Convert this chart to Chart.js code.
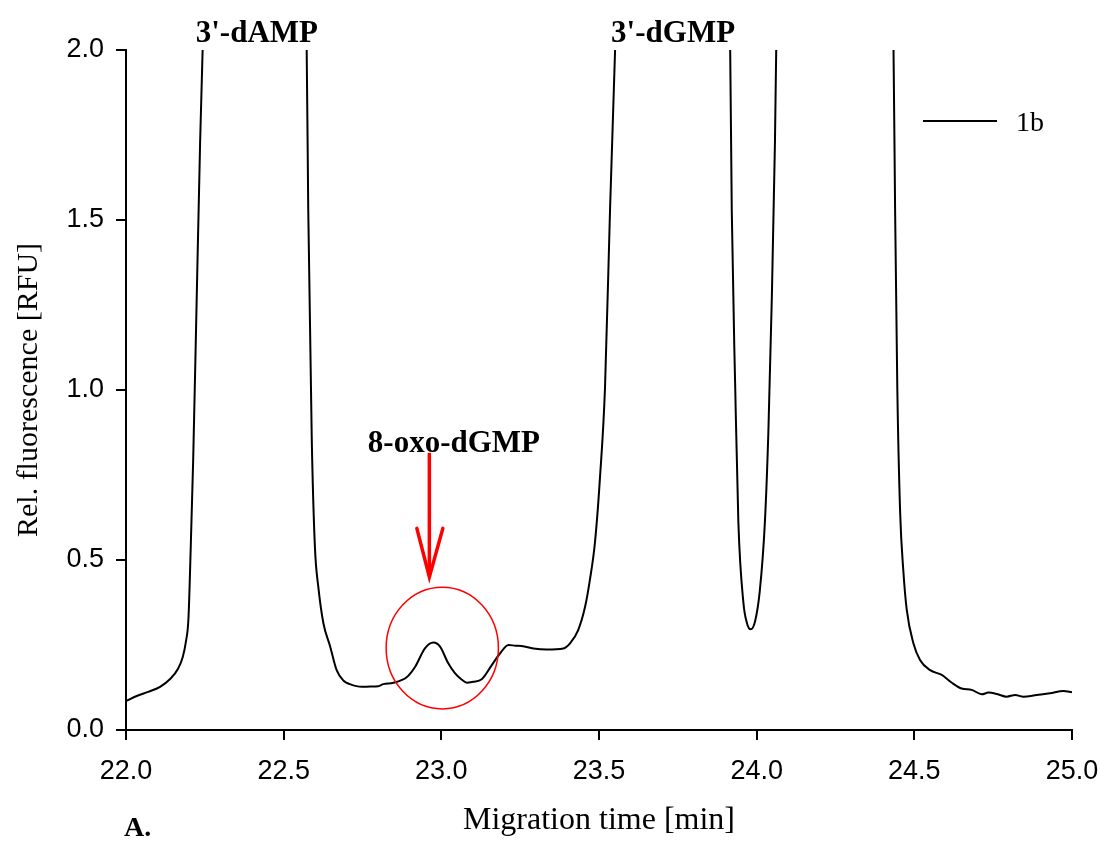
<!DOCTYPE html>
<html>
<head>
<meta charset="utf-8">
<title>Electropherogram 1b</title>
<script src="https://cdn.jsdelivr.net/npm/chart.js@4/dist/chart.umd.min.js"></script>
<style>
  html, body { margin: 0; padding: 0; background: #fff; }
  #wrap { width: 1100px; height: 841px; }
</style>
</head>
<body>
<div id="wrap"><canvas id="chart" width="1100" height="841"></canvas></div>
<script>
// Migration time [min] of each trace sample
const migrationTime = [
  22.000, 22.034, 22.070, 22.108, 22.140, 22.165, 22.180, 22.190, 22.198, 22.205,
  22.213, 22.224, 22.235, 22.243, 22.260, 22.410, 22.560, 22.573, 22.578, 22.589,
  22.599, 22.610, 22.626, 22.647, 22.668, 22.690, 22.710, 22.748, 22.775, 22.800,
  22.816, 22.848, 22.890, 22.917, 22.948, 22.975, 22.996, 23.022, 23.043, 23.065,
  23.081, 23.101, 23.128, 23.160, 23.186, 23.213, 23.235, 23.255, 23.292, 23.334,
  23.387, 23.408, 23.434, 23.456, 23.471, 23.487, 23.503, 23.519, 23.535, 23.551,
  23.570, 23.735, 23.900, 23.916, 23.921, 23.932, 23.942, 23.958, 23.969, 23.981,
  23.995, 24.010, 24.026, 24.037, 24.048, 24.058, 24.062, 24.080, 24.250, 24.420,
  24.434, 24.439, 24.446, 24.455, 24.465, 24.476, 24.497, 24.518, 24.550, 24.587,
  24.619, 24.650, 24.682, 24.714, 24.735, 24.762, 24.793, 24.820, 24.846, 24.888,
  24.930, 24.973, 25.000
];

// Relative fluorescence [RFU] of trace 1b
const fluorescence1b = [
  0.085, 0.100, 0.112, 0.127, 0.150, 0.180, 0.215, 0.260, 0.327, 0.527,
  0.793, 1.260, 1.727, 2.000, 2.450, 3.400, 2.450, 2.000, 1.527, 0.860,
  0.540, 0.420, 0.314, 0.247, 0.176, 0.145, 0.135, 0.127, 0.128, 0.129,
  0.135, 0.139, 0.155, 0.186, 0.240, 0.257, 0.245, 0.196, 0.167, 0.148,
  0.139, 0.142, 0.149, 0.191, 0.225, 0.250, 0.248, 0.247, 0.240, 0.237,
  0.240, 0.255, 0.294, 0.363, 0.441, 0.550, 0.741, 1.006, 1.530, 2.000,
  2.500, 3.600, 2.500, 2.000, 1.530, 1.006, 0.610, 0.374, 0.315, 0.296,
  0.320, 0.410, 0.610, 0.873, 1.269, 1.729, 2.000, 2.500, 3.500, 2.500,
  2.000, 1.530, 1.006, 0.640, 0.470, 0.353, 0.255, 0.206, 0.176, 0.162,
  0.139, 0.122, 0.118, 0.105, 0.110, 0.106, 0.098, 0.103, 0.098, 0.103,
  0.108, 0.115, 0.111
];

// Axis ranges and tick steps
const timeTicks = [22.0, 22.5, 23.0, 23.5, 24.0, 24.5, 25.0];
const rfuTicks = [0.0, 0.5, 1.0, 1.5, 2.0];

// Peak labels: text, migration time (centre) and RFU (baseline)
const peakNames = ["3'-dAMP", "3'-dGMP", "8-oxo-dGMP"];
const peakLabelTime = [22.415, 23.735, 23.04];
const peakLabelRFU = [2.024, 2.024, 0.817];

// Highlighted 8-oxo-dGMP peak: arrow and encircling ring (data units)
const arrowTime = 22.962;
const arrowFromRFU = 0.815;
const arrowToRFU = 0.45;
const arrowHeadRFU = 0.593;
const ringCenter = [23.003, 0.241];
const ringRadius = [0.178, 0.179];

const serif = '"Liberation Serif", "Times New Roman", serif';
const sans = '"Liberation Sans", Arial, sans-serif';

const points = migrationTime.map((t, i) => ({ x: t, y: fluorescence1b[i] }));

const overlay = {
  id: 'overlay',
  afterDatasetsDraw(chart) {
    const { ctx, scales: { x, y } } = chart;
    ctx.save();

    // ring around the small peak
    ctx.strokeStyle = '#ff0000';
    ctx.lineWidth = 1.5;
    ctx.beginPath();
    const cx = x.getPixelForValue(ringCenter[0]);
    const cy = y.getPixelForValue(ringCenter[1]);
    const rx = x.getPixelForValue(ringCenter[0] + ringRadius[0]) - cx;
    const ry = cy - y.getPixelForValue(ringCenter[1] + ringRadius[1]);
    ctx.ellipse(cx, cy, rx, ry, 0, 0, Math.PI * 2);
    ctx.stroke();

    // arrow pointing at it
    const ax = x.getPixelForValue(arrowTime);
    const ay0 = y.getPixelForValue(arrowFromRFU);
    const ay1 = y.getPixelForValue(arrowToRFU);
    const ah = y.getPixelForValue(arrowHeadRFU);
    ctx.lineWidth = 3.5;
    ctx.lineCap = 'butt';
    ctx.beginPath();
    ctx.moveTo(ax, ay0);
    ctx.lineTo(ax, ay1 - 2);
    ctx.stroke();
    ctx.lineCap = 'round';
    ctx.beginPath();
    ctx.moveTo(ax - 12.5, ah);
    ctx.lineTo(ax, ay1);
    ctx.lineTo(ax + 13.5, ah);
    ctx.stroke();

    // peak names
    ctx.fillStyle = '#000';
    ctx.font = 'bold 31px ' + serif;
    ctx.textAlign = 'center';
    ctx.textBaseline = 'alphabetic';
    peakNames.forEach((name, i) => {
      ctx.fillText(name, x.getPixelForValue(peakLabelTime[i]), y.getPixelForValue(peakLabelRFU[i]));
    });

    // legend
    const ds = chart.data.datasets[0];
    ctx.strokeStyle = ds.borderColor;
    ctx.lineWidth = 2;
    ctx.lineCap = 'butt';
    ctx.beginPath();
    ctx.moveTo(923, 121);
    ctx.lineTo(997, 121);
    ctx.stroke();
    ctx.font = '28px ' + serif;
    ctx.textAlign = 'left';
    ctx.fillText(ds.label, 1016, 131);

    // panel letter
    ctx.font = 'bold 28px ' + serif;
    ctx.fillText('A.', 124, 836);

    ctx.restore();
  }
};

new Chart(document.getElementById('chart'), {
  type: 'line',
  data: {
    datasets: [{
      label: '1b',
      data: points,
      borderColor: '#000000',
      borderWidth: 2,
      pointRadius: 0,
      fill: false,
      cubicInterpolationMode: 'monotone'
    }]
  },
  options: {
    responsive: false,
    animation: false,
    devicePixelRatio: 1,
    layout: { padding: { left: 0, top: 50, right: 28, bottom: 0 } },
    plugins: { legend: { display: false }, tooltip: { enabled: false } },
    scales: {
      x: {
        type: 'linear',
        min: timeTicks[0],
        max: timeTicks[timeTicks.length - 1],
        afterBuildTicks(scale) { scale.ticks = timeTicks.map(v => ({ value: v })); },
        afterFit(scale) {
          scale.height = 111;
          scale.paddingLeft = 0;
          scale.paddingRight = 0;
        },
        border: { display: true, color: '#000', width: 2 },
        grid: { drawOnChartArea: false, drawTicks: true, tickLength: 10, color: '#000', lineWidth: 2 },
        ticks: {
          color: '#000', padding: 15, maxRotation: 0,
          font: { family: sans, size: 27 },
          callback: v => Number(v).toFixed(1)
        },
        title: {
          display: true, text: 'Migration time [min]', color: '#000',
          font: { family: serif, size: 32 }, padding: { top: 0, bottom: 1 }
        }
      },
      y: {
        type: 'linear',
        min: rfuTicks[0],
        max: rfuTicks[rfuTicks.length - 1],
        afterBuildTicks(scale) { scale.ticks = rfuTicks.map(v => ({ value: v })); },
        afterFit(scale) {
          scale.width = 126;
          scale.paddingTop = 0;
          scale.paddingBottom = 0;
        },
        border: { display: true, color: '#000', width: 2 },
        grid: { drawOnChartArea: false, drawTicks: true, tickLength: 10, color: '#000', lineWidth: 2 },
        ticks: {
          color: '#000', padding: 12,
          font: { family: sans, size: 27 },
          callback: v => Number(v).toFixed(1)
        },
        title: {
          display: true, text: 'Rel. fluorescence [RFU]', color: '#000',
          font: { family: serif, size: 30 }, padding: { top: 11, bottom: 0 }
        }
      }
    }
  },
  plugins: [overlay]
});
</script>
</body>
</html>
